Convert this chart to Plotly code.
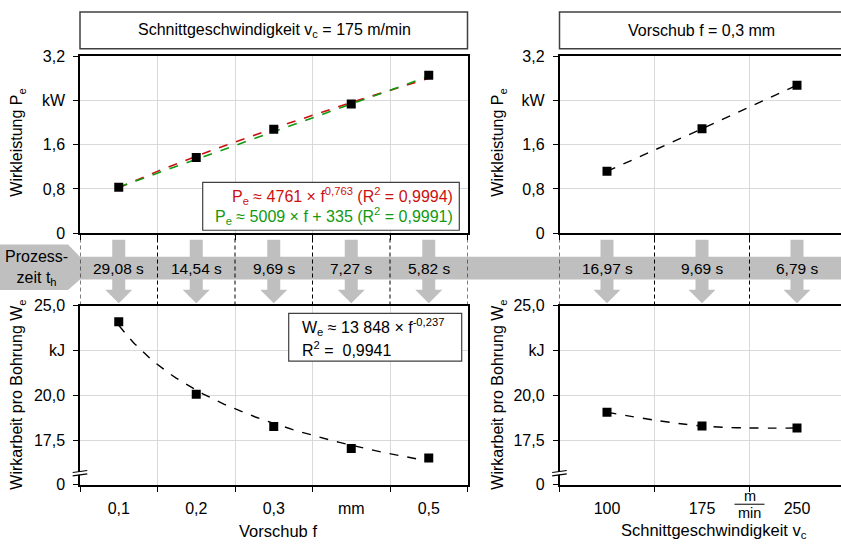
import numpy as np
import plotly.graph_objects as go

feed = [0.1, 0.2, 0.3, 0.4, 0.5]                 # Vorschub f in mm
power_feed = [0.83, 1.37, 1.88, 2.34, 2.86]      # Wirkleistung Pe in kW (vc = 175 m/min)
work_feed = [24.1, 20.05, 18.26, 17.03, 16.5]    # Wirkarbeit We in kJ
time_feed = ["29,08 s", "14,54 s", "9,69 s", "7,27 s", "5,82 s"]

vc = [100, 175, 250]                             # Schnittgeschwindigkeit in m/min
power_vc = [1.12, 1.89, 2.68]                    # Pe in kW (f = 0,3 mm)
work_vc = [19.05, 18.28, 18.17]                  # We in kJ
time_vc = ["16,97 s", "9,69 s", "6,79 s"]

# trendline coefficients as printed in the chart (W / J)
pow_a, pow_b = 4761, 0.763
lin_a, lin_b = 5009, 335
work_a, work_b = 13848, -0.237

feed_labels = ["0,1", "0,2", "0,3", "mm", "0,5"]
feed_grid = [0.05, 0.15, 0.25, 0.35, 0.45, 0.55]
vc_labels = ["100", "175", "250"]
vc_grid = [62.5, 137.5, 212.5]
p_ticks = [0, 0.8, 1.6, 2.4, 3.2]
p_labels = ["0", "0,8", "1,6", "kW", "3,2"]
w_ticks = [15, 17.5, 20, 22.5, 25]
w_labels = ["0", "17,5", "20,0", "kJ", "25,0"]

W, H = 841, 552
FONT = "Liberation Sans, Arial, sans-serif"
GRAY = "#BFBFBF"
GRID = "#D9D9D9"
RED = "#CC1010"
GREEN = "#119A11"


def px(x):
    return x / W


def py(y):
    return 1 - y / H


fig = go.Figure()

mk = dict(symbol="square", size=9, color="black")
f_fit = np.linspace(feed[0], feed[-1], 60)

fig.add_trace(go.Scatter(x=f_fit, y=pow_a * f_fit ** pow_b / 1000, mode="lines",
                         line=dict(color=RED, width=1.6, dash="dash"), xaxis="x", yaxis="y"))
fig.add_trace(go.Scatter(x=f_fit, y=(lin_a * f_fit + lin_b) / 1000, mode="lines",
                         line=dict(color=GREEN, width=1.6, dash="dash"), xaxis="x", yaxis="y"))
fig.add_trace(go.Scatter(x=feed, y=power_feed, mode="markers", marker=mk, xaxis="x", yaxis="y"))

fig.add_trace(go.Scatter(x=f_fit, y=work_a * f_fit ** work_b / 1000, mode="lines",
                         line=dict(color="black", width=1.4, dash="dash"), xaxis="x2", yaxis="y2"))
fig.add_trace(go.Scatter(x=feed, y=work_feed, mode="markers", marker=mk, xaxis="x2", yaxis="y2"))

fig.add_trace(go.Scatter(x=vc, y=power_vc, mode="lines+markers", marker=mk,
                         line=dict(color="black", width=1.4, dash="dash"), xaxis="x3", yaxis="y3"))
fig.add_trace(go.Scatter(x=vc, y=work_vc, mode="lines+markers", marker=mk,
                         line=dict(color="black", width=1.4, dash="dash", shape="spline"),
                         xaxis="x4", yaxis="y4"))

left_dom = [px(80), px(467.5)]
right_dom = [px(559.5), 1.0]
top_dom = [py(232.3), py(50)]
bot_dom = [py(492), py(307)]


def xax(dom, anchor, rng, vals, labels, grid, show):
    return dict(domain=dom, anchor=anchor, range=rng, showline=True, linecolor="black",
                linewidth=1.5, mirror=True, showgrid=False, zeroline=False, ticks="",
                tickmode="array", tickvals=vals, ticktext=labels, showticklabels=show,
                ticklabelstandoff=8, tickfont=dict(size=16, color="black"),
                minor=dict(tickmode="array", tickvals=grid, showgrid=True, gridcolor=GRID,
                           ticks="outside", ticklen=5, tickcolor="black"))


def yax(dom, anchor, rng, vals, labels, mirror):
    return dict(domain=dom, anchor=anchor, range=rng, showline=True, linecolor="black",
                linewidth=1.5, mirror=mirror, showgrid=True, gridcolor=GRID, zeroline=False,
                ticks="outside", ticklen=5, tickcolor="black", tickmode="array",
                tickvals=vals, ticktext=labels, ticklabelstandoff=5,
                tickfont=dict(size=16, color="black"))


vc_range = [62.5, 62.5 + (W - 559.5) / 95 * 75]

fig.update_layout(
    xaxis=xax(left_dom, "y", [0.05, 0.55], feed, feed_labels, feed_grid, False),
    yaxis=yax(top_dom, "x", [0, 3.2], p_ticks, p_labels, True),
    xaxis2=xax(left_dom, "y2", [0.05, 0.55], feed, feed_labels, feed_grid, True),
    yaxis2=yax(bot_dom, "x2", [15, 25], w_ticks, w_labels, True),
    xaxis3=xax(right_dom, "y3", vc_range, vc, vc_labels, vc_grid, False),
    yaxis3=yax(top_dom, "x3", [0, 3.2], p_ticks, p_labels, False),
    xaxis4=xax(right_dom, "y4", vc_range, vc, vc_labels, vc_grid, True),
    yaxis4=yax(bot_dom, "x4", [15, 25], w_ticks, w_labels, False),
)

shapes = []
annos = []


def text(x, y, s, size=16, color="black", xanchor="center", xref="paper", angle=0):
    annos.append(dict(x=x, y=y, xref=xref, yref="paper", text=s, showarrow=False,
                      xanchor=xanchor, yanchor="middle", textangle=angle,
                      font=dict(size=size, color=color, family=FONT)))


# title boxes
for x0, x1 in [(80, 467.5), (559.5, 850)]:
    shapes.append(dict(type="rect", xref="paper", yref="paper", x0=px(x0), x1=px(x1),
                       y0=py(42), y1=py(4), line=dict(color="#404040", width=1.5),
                       fillcolor="white"))
text(px(274), py(23), "Schnittgeschwindigkeit v<sub>c</sub> = 175 m/min")
text(px(701), py(23), "Vorschub f = 0,3 mm")

# Prozesszeit band
shapes.append(dict(type="rect", xref="paper", yref="paper", x0=px(80), x1=1.02,
                   y0=py(280), y1=py(256.7), fillcolor=GRAY, line=dict(width=0)))
pent = [(0, 244), (68, 244), (80, 256.7), (80, 280), (68, 291), (0, 291)]
shapes.append(dict(type="path", xref="paper", yref="paper", fillcolor=GRAY, line=dict(width=0),
                   path="M " + " L ".join(f"{px(a):.5f},{py(b):.5f}" for a, b in pent) + " Z"))
text(px(36), py(268), "Prozess-<br>zeit t<sub>h</sub>", size=16)

arrow = "M -6.5,0 L 6.5,0 L 6.5,-50 L 13.5,-50 L 0,-63.7 L -13.5,-50 L -6.5,-50 Z"
for xr, xs, ts in [("x", feed, time_feed), ("x3", vc, time_vc)]:
    for xv, t in zip(xs, ts):
        shapes.append(dict(type="path", xref=xr, yref="paper", xsizemode="pixel",
                           ysizemode="pixel", xanchor=xv, yanchor=py(239), path=arrow,
                           fillcolor=GRAY, line=dict(width=0)))
        text(xv, py(268.3), t, size=15.5, xref=xr)

for xr, gs in [("x", feed_grid), ("x3", vc_grid)]:
    for g in gs:
        shapes.append(dict(type="line", xref=xr, yref="paper", x0=g, x1=g, y0=py(307),
                           y1=py(232.3), line=dict(color="black", width=1, dash="4px,3px")))

# fit boxes
shapes.append(dict(type="rect", xref="paper", yref="paper", x0=px(202.7), x1=px(459.3),
                   y0=py(229.3), y1=py(180), line=dict(color="#404040", width=1.2),
                   fillcolor="white"))
text(px(455), py(193.5), "P<sub>e</sub> ≈ 4761 × f<sup>0,763</sup> (R<sup>2</sup> = 0,9994)",
     color=RED, xanchor="right")
text(px(455), py(214.5), "P<sub>e</sub> ≈ 5009 × f + 335 (R<sup>2</sup> = 0,9991)",
     color=GREEN, xanchor="right")

shapes.append(dict(type="rect", xref="paper", yref="paper", x0=px(288.7), x1=px(461.7),
                   y0=py(364.3), y1=py(315), line=dict(color="#404040", width=1.2),
                   fillcolor="white"))
text(px(300), py(329.5), "W<sub>e</sub> ≈ 13 848 × f<sup>-0,237</sup>", xanchor="left")
text(px(300), py(352), "R<sup>2</sup> =  0,9941", xanchor="left")

# axis breaks
gap = "M -3,1.0 L 3,1.8 L 3,-1.0 L -3,-1.8 Z"
for ax in [80, 559.5]:
    base = dict(xref="paper", yref="paper", xsizemode="pixel", ysizemode="pixel",
                xanchor=px(ax), yanchor=py(480))
    shapes.append(dict(type="path", path=gap, fillcolor="white", line=dict(width=0), **base))
    for dy in [1.7, -1.7]:
        shapes.append(dict(type="path", path=f"M -7.3,{dy - 1:.1f} L 7.3,{dy + 1:.1f}",
                           line=dict(color="black", width=1.2), **base))

# unit fraction on the vc axis
text(212.5, py(504), "m", size=14.5, xref="x4")
text(212.5, py(521), "min", size=14.5, xref="x4")
shapes.append(dict(type="line", xref="x4", yref="paper", xsizemode="pixel", xanchor=212.5,
                   x0=-15, x1=15, y0=py(512), y1=py(512), line=dict(color="black", width=1)))

# axis titles
text(px(18), py(139), "Wirkleistung P<sub>e</sub>", angle=-90)
text(px(18), py(399), "Wirkarbeit pro Bohrung W<sub>e</sub>", angle=-90)
text(px(499), py(139), "Wirkleistung P<sub>e</sub>", angle=-90)
text(px(499), py(399), "Wirkarbeit pro Bohrung W<sub>e</sub>", angle=-90)
text(px(278), py(540), "Vorschub f", size=16.5)
text(px(714), py(540), "Schnittgeschwindigkeit v<sub>c</sub>", size=16.5)

fig.update_layout(width=W, height=H, margin=dict(l=0, r=0, t=0, b=0), showlegend=False,
                  plot_bgcolor="white", paper_bgcolor="white",
                  font=dict(family=FONT, size=16, color="black"),
                  shapes=shapes, annotations=annos)

fig.write_html("out.html", config={"displayModeBar": False},
               post_script="document.body.style.margin = '0px';")
